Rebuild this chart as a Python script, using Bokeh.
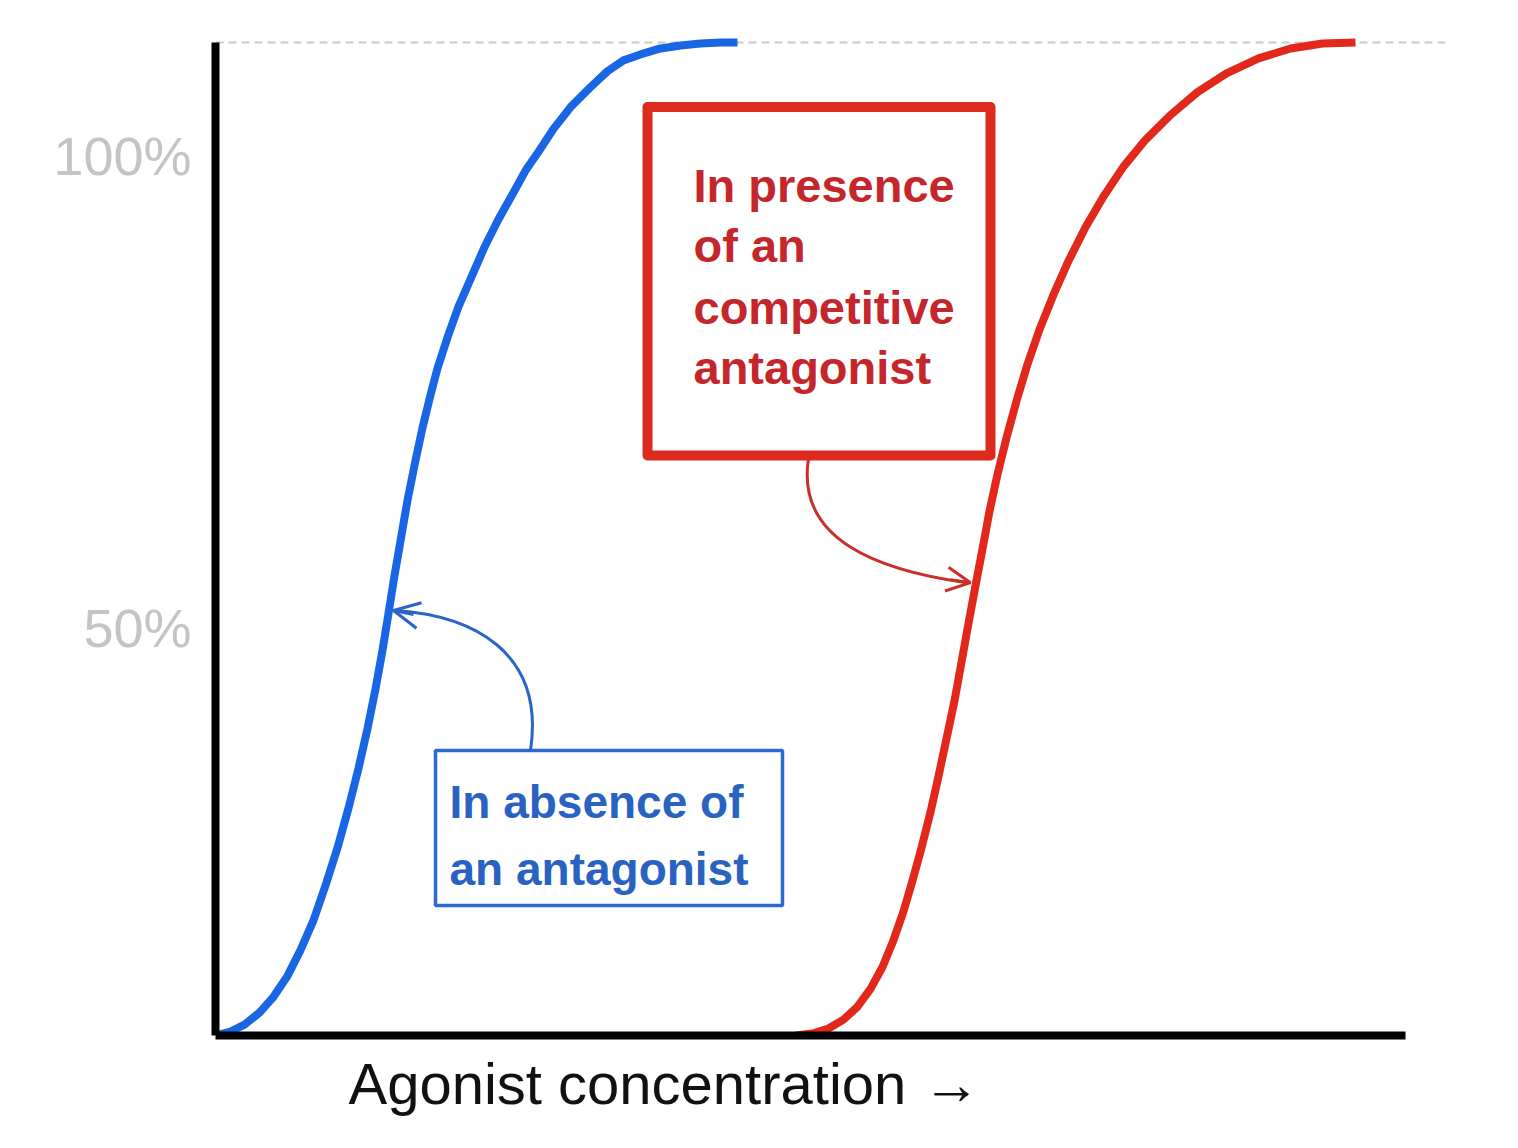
from bokeh.plotting import figure
from bokeh.models import (Range1d, FixedTicker, Span, Title, Arrow, OpenHead)
from bokeh.core.properties import value
from bokeh.embed import file_html
from bokeh.resources import INLINE

# ---- data (log agonist concentration, arbitrary units; fractional response) ----
blue_x = [0.00, 0.15, 0.29, 0.44, 0.58, 0.72, 0.85, 0.98, 1.10, 1.22, 1.33, 1.43,
          1.52, 1.60, 1.67, 1.73, 1.79, 1.85, 1.92, 2.00, 2.07, 2.15, 2.22, 2.32,
          2.43, 2.56, 2.69, 2.83, 2.98, 3.10, 3.23, 3.38, 3.56, 3.74, 3.92, 4.08,
          4.25, 4.45, 4.65, 4.85, 5.05, 5.22]
blue_y = [0.000, 0.004, 0.011, 0.023, 0.039, 0.060, 0.086, 0.116, 0.151, 0.189, 0.229, 0.269,
          0.309, 0.349, 0.388, 0.425, 0.463, 0.498, 0.539, 0.579, 0.612, 0.645, 0.672, 0.703,
          0.734, 0.764, 0.794, 0.822, 0.849, 0.871, 0.890, 0.913, 0.936, 0.954, 0.971, 0.982,
          0.988, 0.994, 0.997, 0.999, 1.000, 1.000]

red_x = [5.80, 5.97, 6.13, 6.28, 6.42, 6.55, 6.67, 6.78, 6.88, 6.97, 7.06, 7.15, 7.23,
         7.31, 7.39, 7.46, 7.53, 7.60, 7.67, 7.74, 7.82, 7.91, 8.01, 8.12, 8.24, 8.38,
         8.53, 8.70, 8.88, 9.08, 9.30, 9.55, 9.82, 10.11, 10.43, 10.75, 11.07, 11.40]
red_y = [0.000, 0.002, 0.007, 0.016, 0.029, 0.047, 0.069, 0.096, 0.125, 0.156, 0.189, 0.225, 0.261,
         0.299, 0.337, 0.376, 0.415, 0.453, 0.490, 0.528, 0.565, 0.602, 0.639, 0.676, 0.711, 0.746,
         0.780, 0.814, 0.845, 0.875, 0.902, 0.927, 0.950, 0.969, 0.984, 0.994, 0.999, 1.000]

y_tick_values = [0.410, 0.886]
y_tick_labels = ["50%", "100%"]

x_axis_title = "Agonist concentration \u2192"
red_note = ["In presence", "of an", "competitive", "antagonist"]
blue_note = ["In absence of", "an antagonist"]

BLUE = "#1866e3"
RED = "#e1281a"
SANS = "Liberation Sans"

p = figure(width=1510, height=1140,
           x_range=Range1d(0, 12.3), y_range=Range1d(0, 1.0151),
           output_backend="svg", toolbar_location=None,
           min_border_left=215, min_border_right=65,
           min_border_top=27, min_border_bottom=105)
p.outline_line_color = None
p.xgrid.visible = False
p.ygrid.visible = False
p.background_fill_color = "white"
p.border_fill_color = "white"

# axes
for ax in (p.xaxis[0], p.yaxis[0]):
    ax.axis_line_color = "black"
    ax.axis_line_width = 8
    ax.major_tick_line_color = None
    ax.minor_tick_line_color = None
p.xaxis.ticker = FixedTicker(ticks=[])
p.xaxis.bounds = (0, 11.9)
p.yaxis.bounds = (0, 1.0)
p.yaxis.ticker = FixedTicker(ticks=y_tick_values)
p.yaxis.major_label_overrides = {v: t for v, t in zip(y_tick_values, y_tick_labels)}
p.yaxis.major_label_text_font = SANS
p.yaxis.major_label_text_font_size = "54px"
p.yaxis.major_label_text_color = "#c4c4c4"
p.yaxis.major_label_standoff = 18

# dashed maximum line
p.add_layout(Span(location=1.0, dimension="width", line_color="#c9c9c9",
                  line_width=2, line_dash="8 5", level="underlay"))

# curves
p.line(blue_x, blue_y, line_color=BLUE, line_width=8, line_join="round")
p.line(red_x, red_y, line_color=RED, line_width=8, line_join="round")

# red note box
p.quad(left=[4.32], right=[7.75], bottom=[0.584], top=[0.935],
       fill_color="white", line_color="#dc2a1c", line_width=10, line_join="round")
p.text(x=[4.78] * 4, y=[0.856, 0.796, 0.733, 0.673], text=red_note,
       text_font=value(SANS), text_font_style="bold", text_font_size="47px",
       text_color="#c4262c", text_baseline="alphabetic", text_align="left")

# blue note box
p.quad(left=[2.20], right=[5.67], bottom=[0.131], top=[0.287],
       fill_color="white", line_color="#2c6ad2", line_width=3.5)
p.text(x=[2.34, 2.34], y=[0.235, 0.168], text=blue_note,
       text_font=value(SANS), text_font_style="bold", text_font_size="46px",
       text_color="#2a62c2", text_baseline="alphabetic", text_align="left")

# curved arrows
p.bezier(x0=[3.15], y0=[0.287], x1=[1.80], y1=[0.428],
         cx0=[3.30], cy0=[0.388], cx1=[2.55], cy1=[0.423],
         line_color="#2a64c8", line_width=3)
p.add_layout(Arrow(end=OpenHead(size=26, line_color="#2a64c8", line_width=3),
                   x_start=1.98, y_start=0.424, x_end=1.78, y_end=0.428,
                   line_color="#2a64c8", line_width=3))

p.bezier(x0=[5.93], y0=[0.581], x1=[7.51], y1=[0.456],
         cx0=[5.80], cy0=[0.498], cx1=[6.65], cy1=[0.468],
         line_color="#c8302a", line_width=3)
p.add_layout(Arrow(end=OpenHead(size=24, line_color="#c8302a", line_width=3),
                   x_start=7.35, y_start=0.459, x_end=7.55, y_end=0.456,
                   line_color="#c8302a", line_width=3))

# x axis title (below the axis, left-aligned with an offset)
p.add_layout(Title(text=x_axis_title, align="left", offset=133,
                   text_font=SANS, text_font_size="58px", text_font_style="normal",
                   text_color="#111111", standoff=26), "below")

open("out.html", "w").write(file_html(p, INLINE))
